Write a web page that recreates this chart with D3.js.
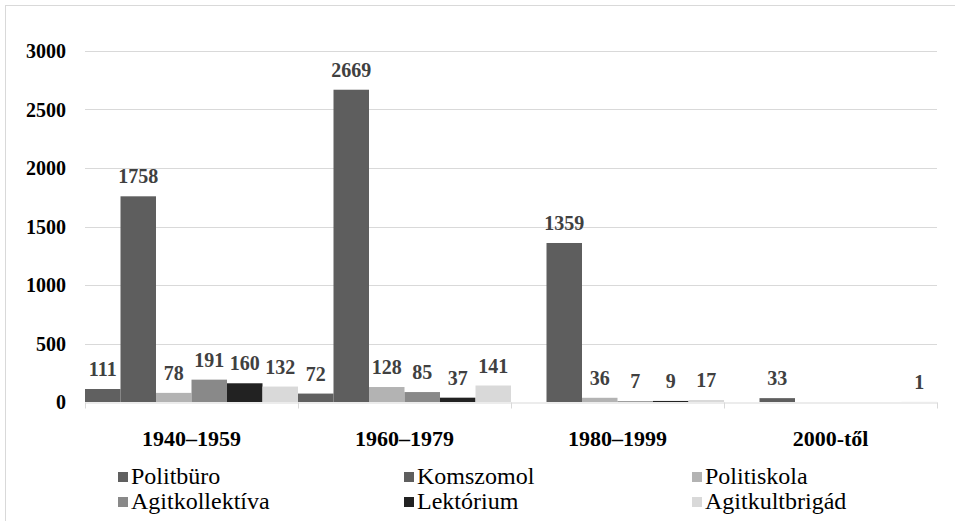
<!DOCTYPE html>
<html>
<head>
<meta charset="utf-8">
<script src="https://cdn.jsdelivr.net/npm/d3@7"></script>
<style>
  body { margin: 0; background: #fff; }
</style>
</head>
<body>
<svg class="bar-chart"></svg>
<script>
// periods on the x axis
const categories = ["1940–1959", "1960–1979", "1980–1999", "2000-től"];

// one array per organisation type, values per period (null = no bar)
const politburo = [111, 72, null, null];
const komszomol = [1758, 2669, 1359, 33];
const politiskola = [78, 128, 36, null];
const agitkollektiva = [191, 85, 7, null];
const lektorium = [160, 37, 9, null];
const agitkultbrigad = [132, 141, 17, 1];

const seriesNames = ["Politbüro", "Komszomol", "Politiskola", "Agitkollektíva", "Lektórium", "Agitkultbrigád"];
const seriesValues = [politburo, komszomol, politiskola, agitkollektiva, lektorium, agitkultbrigad];
const seriesColors = ["#606060", "#5e5e5e", "#b3b3b3", "#898989", "#222222", "#d9d9d9"];

const yTicks = [0, 500, 1000, 1500, 2000, 2500, 3000];

const serif = "Liberation Serif";

drawChart();

function drawChart() {
    let svgWidth = 955, svgHeight = 521;
    let plot = { left: 85, right: 937, top: 51, bottom: 402 };

    let svg = d3.select(".bar-chart")
        .attr("width", svgWidth)
        .attr("height", svgHeight);

    // outer chart frame (only top and left edges fall inside the picture)
    svg.append("rect")
        .attr("x", 5.5).attr("y", 5.5)
        .attr("width", 1000).attr("height", 600)
        .attr("fill", "none")
        .attr("stroke", "#d9d9d9");

    let x0 = d3.scaleBand()
        .domain(categories)
        .range([plot.left, plot.right])
        .paddingInner(0).paddingOuter(0);

    let x1 = d3.scaleBand()
        .domain(seriesNames)
        .range([0, x0.bandwidth()])
        .padding(0);

    let y = d3.scaleLinear()
        .domain([0, 3000])
        .range([plot.bottom, plot.top]);

    // gridlines
    svg.append("g")
        .selectAll("line")
        .data(yTicks.filter(d => d > 0))
        .join("line")
        .attr("x1", plot.left).attr("x2", plot.right)
        .attr("y1", d => Math.round(y(d)) + 0.5)
        .attr("y2", d => Math.round(y(d)) + 0.5)
        .attr("stroke", "#d9d9d9");

    // y tick labels
    svg.append("g")
        .selectAll("text")
        .data(yTicks)
        .join("text")
        .attr("x", 66)
        .attr("y", d => y(d))
        .attr("dy", "0.35em")
        .attr("text-anchor", "end")
        .style("font-family", serif)
        .attr("font-size", 20)
        .attr("font-weight", "bold")
        .attr("fill", "#000")
        .text(d => d);

    // bars
    let rows = [];
    categories.forEach((c, i) => {
        seriesNames.forEach((s, j) => {
            let v = seriesValues[j][i];
            if (v !== null) rows.push({ cat: c, name: s, value: v, color: seriesColors[j] });
        });
    });

    let bars = svg.append("g");
    bars.selectAll("rect")
        .data(rows)
        .join("rect")
        .attr("x", d => x0(d.cat) + x1(d.name))
        .attr("y", d => y(d.value))
        .attr("width", x1.bandwidth())
        .attr("height", d => y(0) - y(d.value))
        .attr("fill", d => d.color);

    // value labels
    bars.selectAll("text")
        .data(rows)
        .join("text")
        .attr("x", d => x0(d.cat) + x1(d.name) + x1.bandwidth() / 2)
        .attr("y", d => y(d.value) - 13)
        .attr("text-anchor", "middle")
        .style("font-family", serif)
        .attr("font-size", 20)
        .attr("font-weight", "bold")
        .attr("fill", "#404040")
        .text(d => d.value);

    // x axis
    let xAxis = d3.axisBottom(x0).tickSize(0).tickPadding(0);
    let gx = svg.append("g")
        .attr("transform", "translate(0," + (plot.bottom + 0.5) + ")")
        .call(xAxis);
    gx.select(".domain").attr("stroke", "#d9d9d9");
    gx.selectAll(".tick text")
        .attr("y", 43)
        .attr("dy", 0)
        .style("font-family", serif)
        .attr("font-size", 22)
        .attr("font-weight", "bold")
        .attr("fill", "#000");

    // tick marks at group boundaries
    let bounds = categories.map(c => x0(c)).concat([plot.right]);
    gx.selectAll(".sep")
        .data(bounds)
        .join("line")
        .attr("class", "sep")
        .attr("x1", d => Math.round(d) + 0.5).attr("x2", d => Math.round(d) + 0.5)
        .attr("y1", 0).attr("y2", 6)
        .attr("stroke", "#d9d9d9");

    // legend, three columns by two rows
    let legendCols = [118, 404, 692];
    let legendRows = [484, 509];
    seriesNames.forEach((name, i) => {
        let lx = legendCols[i % 3], ly = legendRows[Math.floor(i / 3)];
        svg.append("rect")
            .attr("x", lx).attr("y", ly - 12)
            .attr("width", 10).attr("height", 10)
            .attr("fill", seriesColors[i]);
        svg.append("text")
            .attr("x", lx + 13)
            .attr("y", ly)
            .style("font-family", serif)
            .attr("font-size", 24)
            .attr("fill", "#000")
            .text(name);
    });
}
</script>
</body>
</html>
